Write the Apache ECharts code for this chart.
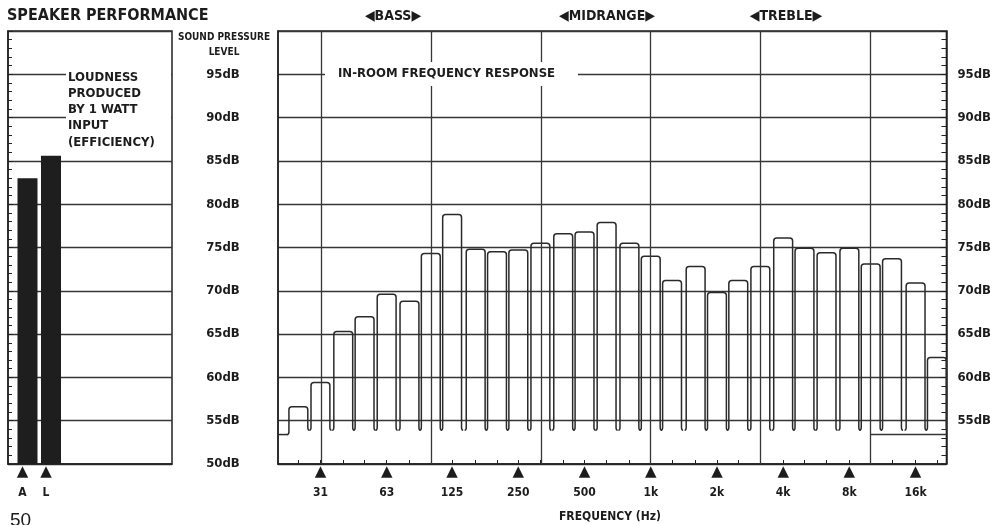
<!DOCTYPE html>
<html>
<head>
<meta charset="utf-8">
<script src="https://cdn.jsdelivr.net/npm/echarts@6/dist/echarts.min.js"></script>
<style>
  html, body { margin: 0; padding: 0; background: #ffffff; }
  #chart { width: 994px; height: 525px; }
</style>
</head>
<body>
<div id="chart"></div>
<script>
// One-third-octave band centres (Hz) and the measured in-room level of each band (dB SPL)
const bandHz = [20, 25, 31.5, 40, 50, 63, 80, 100, 125, 160, 200, 250, 315, 400, 500, 630, 800,
                1000, 1250, 1600, 2000, 2500, 3150, 4000, 5000, 6300, 8000, 10000, 12500, 16000, 20000];
const bandDb = [53.4, 56.6, 59.4, 65.3, 67.0, 69.6, 68.8, 74.3, 78.8, 74.8, 74.5, 74.7, 75.5, 76.6, 76.8, 77.9, 75.5,
                74.0, 71.2, 72.8, 69.8, 71.2, 72.8, 76.1, 74.9, 74.4, 74.9, 73.1, 73.7, 70.9, 62.3];
// level the pen drops to between bands
const troughDb = 53.9;
// reference line at the top end of the sweep
const baselineHz = [10000, 22100];
const baselineDb = 53.4;

// frequency axis: marked octave centres and their labels
const markerHz = [31.5, 63, 125, 250, 500, 1000, 2000, 4000, 8000, 16000];
const markerLabels = ['31', '63', '125', '250', '500', '1k', '2k', '4k', '8k', '16k'];
// vertical rulings (half-decade)
const rulingHz = [31.6, 100, 316, 1000, 3162, 10000];
const freqRangeHz = [20.2, 22100];

// sound pressure scale
const dbMin = 50, dbMax = 100, dbStep = 5;

// loudness from 1 watt input
const loudnessCats = ['A', 'L'];
const loudnessDb = [83.0, 85.6];

const FONT = "'Liberation Sans Narrow', 'DejaVu Sans Condensed', 'Liberation Sans', sans-serif";
const INK = '#1c1c1c';
const RULE = '#363636';

const lg = Math.log10;
const halfBand = Math.log10(2) / 6;

function renderBand(params, api) {
  const i = api.value(2);
  const lx = api.value(0);
  const lev = api.value(1);
  const prev = i > 0 ? bandDb[i - 1] : lev;
  const next = i < bandDb.length - 1 ? bandDb[i + 1] : troughDb;
  const bL = Math.min(troughDb, lev, prev);
  const bR = Math.min(troughDb, lev, next);
  const pL = api.coord([lx - halfBand, bL]);
  const pR = api.coord([lx + halfBand, bR]);
  const yT = api.coord([lx, lev])[1];
  const x0 = pL[0], yb0 = pL[1], x1 = pR[0], yb1 = pR[1];
  const g = 1.6, r = 3, u = 3;
  let d = '';
  if (yb0 - yT < 1) {
    d += 'M' + x0 + ' ' + yT;
  } else {
    d += 'M' + x0 + ' ' + yb0 +
         ' Q' + (x0 + g) + ' ' + yb0 + ' ' + (x0 + g) + ' ' + (yb0 - u) +
         ' L' + (x0 + g) + ' ' + (yT + r) +
         ' Q' + (x0 + g) + ' ' + yT + ' ' + (x0 + g + r) + ' ' + yT;
  }
  if (yb1 - yT < 1) {
    d += ' L' + x1 + ' ' + yT;
  } else {
    d += ' L' + (x1 - g - r) + ' ' + yT +
         ' Q' + (x1 - g) + ' ' + yT + ' ' + (x1 - g) + ' ' + (yT + r) +
         ' L' + (x1 - g) + ' ' + (yb1 - u) +
         ' Q' + (x1 - g) + ' ' + yb1 + ' ' + x1 + ' ' + yb1;
  }
  return {
    type: 'path',
    shape: { pathData: d },
    style: { fill: 'none', stroke: '#2a2a2a', lineWidth: 1.5 }
  };
}

function nearestIndex(v, list) {
  let best = 0, bd = Infinity;
  list.forEach((x, k) => { const dd = Math.abs(x - v); if (dd < bd) { bd = dd; best = k; } });
  return best;
}

const markerLogs = markerHz.map(lg);
const richLabel = {
  t: { fontSize: 15, lineHeight: 14, color: INK, fontFamily: 'DejaVu Sans' },
  l: { fontSize: 12, lineHeight: 28, color: INK, fontWeight: 'bold', fontFamily: FONT }
};

const chart = echarts.init(document.getElementById('chart'), null, { renderer: 'canvas' });

const option = {
  backgroundColor: '#ffffff',
  animation: false,
  grid: [
    { left: 278, right: 47, top: 31, bottom: 61, show: true, borderColor: '#222', borderWidth: 1.5, backgroundColor: 'transparent' },
    { left: 8, top: 31, width: 164, bottom: 61, show: true, borderColor: '#222', borderWidth: 1.5, backgroundColor: 'transparent' }
  ],
  xAxis: [
    {
      type: 'value', gridIndex: 0,
      min: lg(freqRangeHz[0]), max: lg(freqRangeHz[1]),
      axisLine: { show: true, onZero: false, lineStyle: { color: '#222', width: 1.5 } },
      axisTick: { show: true, inside: true, length: 4, customValues: bandHz.map(lg), lineStyle: { color: '#222' } },
      splitLine: { show: false },
      axisLabel: {
        customValues: markerLogs,
        margin: 1,
        formatter: v => '{t|▲}\n{l|' + markerLabels[nearestIndex(v, markerLogs)] + '}',
        rich: richLabel
      }
    },
    {
      type: 'value', gridIndex: 1,
      min: -0.83, max: 6.15,
      axisLine: { show: true, onZero: false, lineStyle: { color: '#222', width: 1.5 } },
      axisTick: { show: false },
      splitLine: { show: false },
      axisLabel: {
        customValues: loudnessCats.map((c, k) => k),
        margin: 1,
        padding: [0, 10, 0, 0],
        formatter: v => '{t|▲}\n{l|' + loudnessCats[Math.round(v)] + '}',
        rich: richLabel
      }
    }
  ],
  yAxis: [
    {
      type: 'value', gridIndex: 0, position: 'left',
      min: dbMin, max: dbMax, interval: dbStep,
      axisLine: { show: true, onZero: false, lineStyle: { color: '#222', width: 1.5 } },
      axisTick: { show: false },
      splitLine: { show: true, lineStyle: { color: RULE, width: 1.3 } },
      axisLabel: {
        align: 'center', margin: 55,
        formatter: v => (v >= dbMax ? '' : v + 'dB'),
        color: INK, fontFamily: FONT, fontWeight: 'bold', fontSize: 13
      }
    },
    {
      type: 'value', gridIndex: 0, position: 'right',
      min: dbMin, max: dbMax, interval: dbStep,
      axisLine: { show: true, onZero: false, lineStyle: { color: '#222', width: 1.5 } },
      axisTick: { show: true, inside: true, length: 6, lineStyle: { color: '#222' } },
      minorTick: { show: true, splitNumber: 5, length: 5, lineStyle: { color: '#222' } },
      splitLine: { show: false },
      axisLabel: {
        margin: 11,
        formatter: v => (v <= dbMin || v >= dbMax ? '' : v + 'dB'),
        color: INK, fontFamily: FONT, fontWeight: 'bold', fontSize: 13
      }
    },
    {
      type: 'value', gridIndex: 1, position: 'left',
      min: dbMin, max: dbMax, interval: dbStep,
      axisLine: { show: true, onZero: false, lineStyle: { color: '#222', width: 1.5 } },
      axisTick: { show: true, inside: true, length: 5, lineStyle: { color: '#222' } },
      minorTick: { show: true, splitNumber: 5, length: 4, lineStyle: { color: '#222' } },
      splitLine: { show: true, lineStyle: { color: RULE, width: 1.3 } },
      axisLabel: { show: false }
    }
  ],
  series: [
    {
      type: 'custom',
      name: 'In-room response',
      xAxisIndex: 0, yAxisIndex: 0,
      clip: true,
      renderItem: renderBand,
      encode: { x: 0, y: 1 },
      data: bandHz.map((f, i) => [lg(f), bandDb[i], i]),
      z: 3,
      markLine: {
        silent: true,
        symbol: 'none',
        label: { show: false },
        lineStyle: { color: RULE, width: 1.3, type: 'solid' },
        data: rulingHz.map(f => ({ xAxis: lg(f) })).concat([[
          { coord: [lg(baselineHz[0]), baselineDb] },
          { coord: [lg(baselineHz[1]), baselineDb] }
        ]])
      }
    },
    {
      type: 'bar',
      name: 'Loudness',
      xAxisIndex: 1, yAxisIndex: 2,
      barWidth: 20,
      itemStyle: { color: '#1e1e1e' },
      data: loudnessDb.map((v, k) => [k, v])
    }
  ],
  graphic: [
    { type: 'text', x: 7, y: 16, z: 100,
      style: { text: 'SPEAKER PERFORMANCE', fill: INK, font: 'bold 16px ' + FONT, verticalAlign: 'middle' } },
    { type: 'text', x: 393, y: 16, z: 100,
      style: { text: '◀BASS▶', fill: INK, font: 'bold 14px ' + FONT, align: 'center', verticalAlign: 'middle' } },
    { type: 'text', x: 607, y: 16, z: 100,
      style: { text: '◀MIDRANGE▶', fill: INK, font: 'bold 14px ' + FONT, align: 'center', verticalAlign: 'middle' } },
    { type: 'text', x: 786, y: 16, z: 100,
      style: { text: '◀TREBLE▶', fill: INK, font: 'bold 14px ' + FONT, align: 'center', verticalAlign: 'middle' } },
    { type: 'text', x: 224, y: 37, z: 100,
      style: { text: 'SOUND PRESSURE', fill: INK, font: 'bold 10px ' + FONT, align: 'center', verticalAlign: 'middle' } },
    { type: 'text', x: 224, y: 52, z: 100,
      style: { text: 'LEVEL', fill: INK, font: 'bold 10px ' + FONT, align: 'center', verticalAlign: 'middle' } },
    { type: 'rect', z: 90, shape: { x: 66, y: 66, width: 105, height: 86 }, style: { fill: '#ffffff' } },
    { type: 'text', x: 68, y: 69, z: 100,
      style: { text: 'LOUDNESS\nPRODUCED\nBY 1 WATT\nINPUT\n(EFFICIENCY)', fill: INK, font: 'bold 13px ' + FONT, lineHeight: 16.3, verticalAlign: 'top' } },
    { type: 'rect', z: 90, shape: { x: 325, y: 62, width: 253, height: 24 }, style: { fill: '#ffffff' } },
    { type: 'text', x: 338, y: 74, z: 100,
      style: { text: 'IN-ROOM FREQUENCY RESPONSE', fill: INK, font: 'bold 13px ' + FONT, verticalAlign: 'middle' } },
    { type: 'text', x: 610, y: 517, z: 100,
      style: { text: 'FREQUENCY (Hz)', fill: INK, font: 'bold 12px ' + FONT, align: 'center', verticalAlign: 'middle' } },
    { type: 'text', x: 10, y: 511, z: 100,
      style: { text: '50', fill: INK, font: '19px ' + "'Liberation Sans', sans-serif", verticalAlign: 'top' } }
  ]
};

chart.setOption(option);
</script>
</body>
</html>
